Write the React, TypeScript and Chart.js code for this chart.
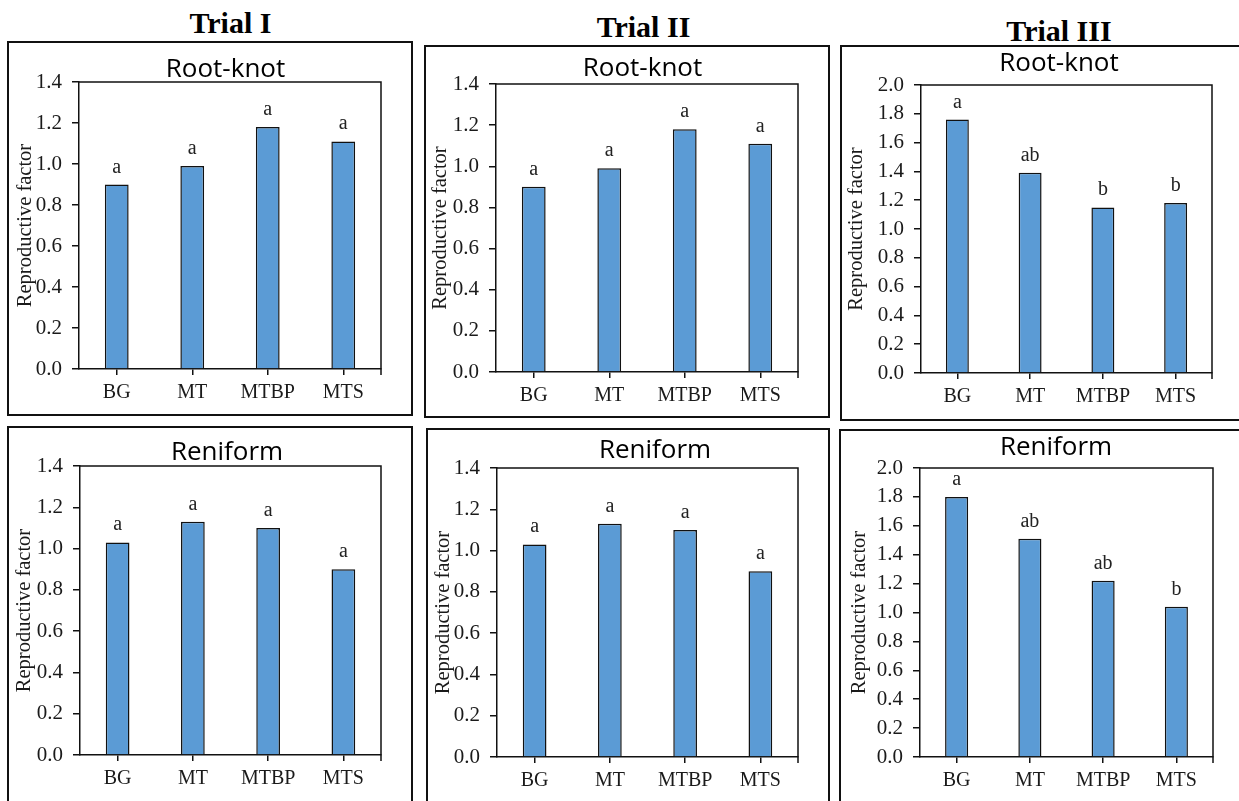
import React, { useEffect, useRef } from 'react';
import { Chart, registerables } from 'chart.js';

Chart.register(...registerables);

// ---------- data ----------
const categories = ['BG', 'MT', 'MTBP', 'MTS'];

const trial1RootKnot = [0.9, 0.99, 1.18, 1.11];
const trial1RootKnotLetters = ['a', 'a', 'a', 'a'];
const trial2RootKnot = [0.9, 0.99, 1.18, 1.11];
const trial2RootKnotLetters = ['a', 'a', 'a', 'a'];
const trial3RootKnot = [1.76, 1.39, 1.15, 1.18];
const trial3RootKnotLetters = ['a', 'ab', 'b', 'b'];

const trial1Reniform = [1.03, 1.13, 1.1, 0.9];
const trial1ReniformLetters = ['a', 'a', 'a', 'a'];
const trial2Reniform = [1.03, 1.13, 1.1, 0.9];
const trial2ReniformLetters = ['a', 'a', 'a', 'a'];
const trial3Reniform = [1.8, 1.51, 1.22, 1.04];
const trial3ReniformLetters = ['a', 'ab', 'ab', 'b'];

const trialTitles = ['Trial I', 'Trial II', 'Trial III'];
const nematodes = ['Root-knot', 'Reniform'];
const yAxisTitle = 'Reproductive factor';
const yMaxTrial12 = 1.4;
const yMaxTrial3 = 2.0;
const yStep = 0.2;

// ---------- layout (positions / sizes only) ----------
const SERIF = '"Liberation Serif", "Times New Roman", Times, serif';
const SANS = '"Open Sans", "Noto Sans", sans-serif';

type Panel = {
  values: number[];
  letters: string[];
  subtitle: string;
  yMax: number;
  L: number; T: number; W: number; H: number;
  pl: number; pt: number; pr: number; pb: number;
  yTitleX: number;
  subX: number; subY: number;
};

const panels: Panel[] = [
  { values: trial1RootKnot, letters: trial1RootKnotLetters, subtitle: nematodes[0], yMax: yMaxTrial12,
    L: 8, T: 42, W: 404, H: 373, pl: 71, pt: 40, pr: 373, pb: 327, yTitleX: 18, subX: 217.5, subY: 35 },
  { values: trial2RootKnot, letters: trial2RootKnotLetters, subtitle: nematodes[0], yMax: yMaxTrial12,
    L: 425, T: 46, W: 404, H: 371, pl: 71, pt: 38, pr: 373, pb: 326, yTitleX: 15.5, subX: 217.5, subY: 30 },
  { values: trial3RootKnot, letters: trial3RootKnotLetters, subtitle: nematodes[0], yMax: yMaxTrial3,
    L: 841, T: 46, W: 404, H: 374, pl: 80, pt: 39, pr: 371, pb: 327, yTitleX: 16, subX: 218, subY: 25 },
  { values: trial1Reniform, letters: trial1ReniformLetters, subtitle: nematodes[1], yMax: yMaxTrial12,
    L: 8, T: 427, W: 404, H: 378, pl: 72, pt: 39, pr: 373, pb: 328, yTitleX: 17, subX: 219, subY: 33 },
  { values: trial2Reniform, letters: trial2ReniformLetters, subtitle: nematodes[1], yMax: yMaxTrial12,
    L: 427, T: 429, W: 402, H: 376, pl: 70, pt: 39, pr: 371, pb: 328, yTitleX: 16.5, subX: 228, subY: 29 },
  { values: trial3Reniform, letters: trial3ReniformLetters, subtitle: nematodes[1], yMax: yMaxTrial3,
    L: 840, T: 430, W: 405, H: 375, pl: 80, pt: 38, pr: 373, pb: 327, yTitleX: 19.5, subX: 216, subY: 25 },
];

const trialHeads = [
  { cx: 230.5, top: 8 },
  { cx: 643.5, top: 12 },
  { cx: 1059, top: 16 },
];

function PanelChart({ p }: { p: Panel }) {
  const ref = useRef<HTMLCanvasElement | null>(null);
  useEffect(() => {
    if (!ref.current) return;
    const deco = {
      id: 'panelDeco',
      afterDatasetsDraw(chart: any) {
        const { ctx, chartArea: ca } = chart;
        ctx.save();
        ctx.strokeStyle = '#111';
        ctx.lineWidth = 1.5;
        ctx.beginPath();
        ctx.moveTo(ca.left, ca.top);
        ctx.lineTo(ca.right, ca.top);
        ctx.lineTo(ca.right, ca.bottom + 6);
        ctx.stroke();
        const meta = chart.getDatasetMeta(0);
        ctx.font = `20px ${SERIF}`;
        ctx.fillStyle = '#222';
        ctx.textAlign = 'center';
        ctx.textBaseline = 'alphabetic';
        meta.data.forEach((bar: any, i: number) => {
          ctx.fillText(p.letters[i], bar.x, bar.y - 12);
        });
        ctx.font = `26px ${SANS}`;
        ctx.fillStyle = '#000';
        ctx.fillText(p.subtitle, p.subX, p.subY);
        ctx.restore();
      },
    };
    const chart = new Chart(ref.current, {
      type: 'bar',
      data: {
        labels: categories,
        datasets: [
          {
            data: p.values,
            backgroundColor: '#5B9BD5',
            borderColor: '#111',
            borderWidth: 1.5,
            barPercentage: 0.315,
            categoryPercentage: 1,
          },
        ],
      },
      plugins: [deco],
      options: {
        responsive: false,
        animation: false,
        devicePixelRatio: 1,
        layout: { padding: { left: 0, top: p.pt, right: p.W - p.pr, bottom: 0 } },
        plugins: { legend: { display: false }, tooltip: { enabled: false }, title: { display: false } },
        scales: {
          x: {
            offset: true,
            grid: { display: true, drawOnChartArea: false, offset: false, tickLength: 6, color: '#111', lineWidth: 1.5 },
            border: { display: true, color: '#111', width: 1.5 },
            ticks: { font: { family: SERIF, size: 20 }, color: '#1a1a1a', padding: 6, maxRotation: 0 },
            afterFit: (s: any) => { s.height = p.H - p.pb; },
          },
          y: {
            min: 0,
            max: p.yMax,
            grid: { display: true, drawOnChartArea: false, tickLength: 7, color: '#111', lineWidth: 1.5 },
            border: { display: true, color: '#111', width: 1.5 },
            ticks: {
              stepSize: yStep,
              font: { family: SERIF, size: 21 },
              color: '#1a1a1a',
              padding: 10,
              callback: (v: any) => Number(v).toFixed(1),
            },
            title: {
              display: true,
              text: yAxisTitle,
              font: { family: SERIF, size: 20.5 },
              color: '#1a1a1a',
              padding: { top: p.yTitleX - 12.3, bottom: 0 },
            },
            afterFit: (s: any) => { s.width = p.pl; },
          },
        },
      },
    });
    return () => chart.destroy();
  }, [p]);

  return (
    <>
      <canvas
        ref={ref}
        width={p.W}
        height={p.H}
        style={{ position: 'absolute', left: p.L, top: p.T, width: p.W, height: p.H }}
      />
      <div
        style={{
          position: 'absolute',
          left: p.L - 1,
          top: p.T - 1,
          width: p.W + 2,
          height: p.H + 2,
          border: '2px solid #111',
          boxSizing: 'border-box',
          pointerEvents: 'none',
        }}
      />
    </>
  );
}

export default function App() {
  return (
    <div
      style={{
        position: 'absolute',
        left: 0,
        top: 0,
        width: 1239,
        height: 801,
        overflow: 'hidden',
        background: '#fff',
      }}
    >
      {trialHeads.map((h, i) => (
        <div
          key={i}
          style={{
            position: 'absolute',
            left: h.cx - 100,
            top: h.top,
            width: 200,
            textAlign: 'center',
            fontFamily: SERIF,
            fontWeight: 'bold',
            fontSize: 30,
            lineHeight: '30px',
            color: '#000',
          }}
        >
          {trialTitles[i]}
        </div>
      ))}
      {panels.map((p, i) => (
        <PanelChart key={i} p={p} />
      ))}
    </div>
  );
}
